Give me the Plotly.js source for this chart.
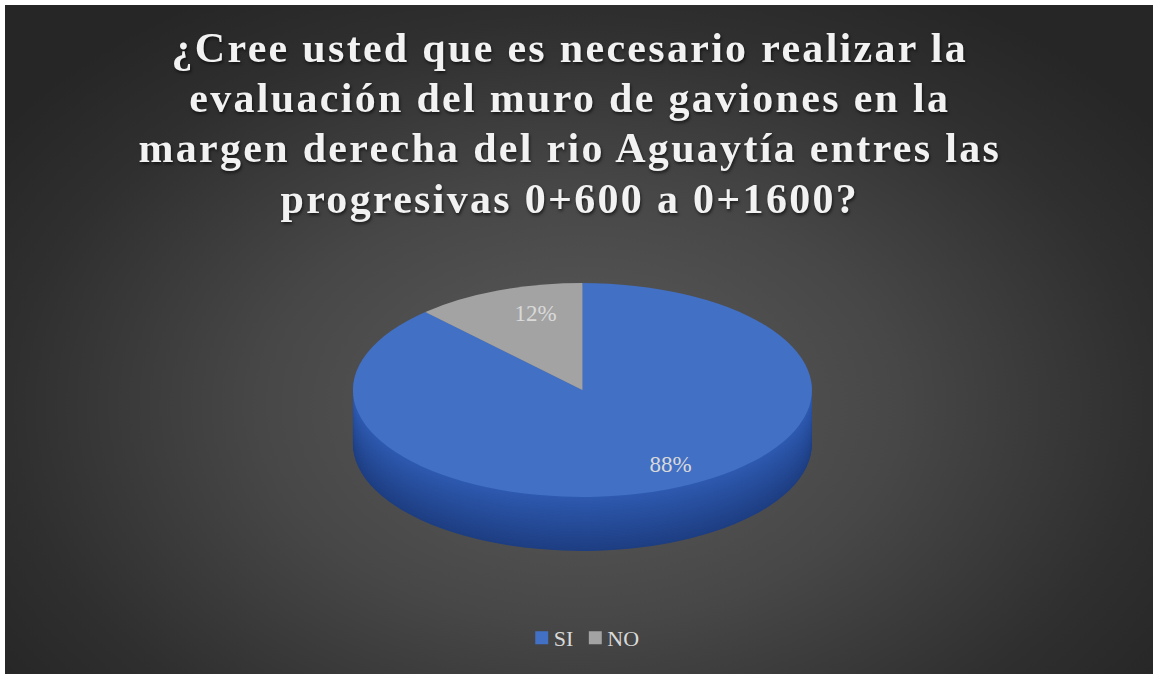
<!DOCTYPE html>
<html><head><meta charset="utf-8">
<script src="https://cdn.plot.ly/plotly-3.0.1.min.js"></script>
<style>
html,body{margin:0;padding:0;background:#ffffff;overflow:hidden;}
#wrap{position:absolute;left:5px;top:5px;width:1148px;height:669px;
 background: radial-gradient(ellipse 62% 72% at 50% 60%, #5c5c5c 0%, #474747 45%, #2f2f2f 80%, #262626 100%);}
#chart{width:1148px;height:669px;}
.gtitle{filter: drop-shadow(1px 2px 1.5px rgba(0,0,0,0.6)); letter-spacing:2.3px;}
</style></head><body>
<div id="wrap"><div id="chart"></div></div>
<script>
// ---- data ----
const categories = ['SI', 'NO'];
const values = [88, 12];
const titleLines = [
  '¿Cree usted que es necesario realizar la',
  'evaluación del muro de gaviones en la',
  'margen derecha del rio Aguaytía entres las',
  'progresivas 0+600 a 0+1600?'
];

// ---- style ----
const topColors = ['#4270c4', '#a3a3a3'];
const sideTop = [46, 90, 176], sideBot = [30, 62, 130];
const greySide = '#777777';
const K = 0.466;          // vertical flattening of the disc
const DEPTH = 54;         // thickness of the disc in px
const STEP = 1.5;
const CENTER_Y = 385;     // disc centre inside the plot div
const W = 1148, H = 669;
const R = 229.5;
const labelShift = [[46, 29], [15, 0]];   // fine placement of the % labels (px)
const legendPull = 11;                      // tighter legend spacing (px)

function rgb(a){return 'rgb(' + a.map(Math.round).join(',') + ')';}

const domainY = [0, (2 * R) / H];
const domainX = [0.006, 1];

const traces = [];
const offsets = [];
const nLayers = Math.round(DEPTH / STEP);
for (let i = nLayers; i >= 1; i--) {
  const t = i / nLayers;
  const c = sideTop.map((v, j) => v + (sideBot[j] - v) * t);
  traces.push({
    type: 'pie', labels: categories, values: values,
    sort: false, direction: 'clockwise', rotation: 0,
    domain: {x: domainX, y: domainY},
    marker: {colors: [rgb(c), greySide], line: {width: 0}},
    textinfo: 'none', hoverinfo: 'skip', showlegend: false
  });
  offsets.push(i * STEP);
}
traces.push({
  type: 'pie', labels: categories, values: values,
  sort: false, direction: 'clockwise', rotation: 0,
  domain: {x: domainX, y: domainY},
  marker: {colors: topColors, line: {width: 0}},
  textinfo: 'percent', textposition: 'inside', insidetextorientation: 'horizontal',
  textfont: {family: 'Liberation Serif', size: 23, color: '#d9d9d9'},
  hoverinfo: 'label+percent', showlegend: true
});
offsets.push(0);

const layout = {
  width: W, height: H,
  margin: {l: 0, r: 0, t: 0, b: 0},
  paper_bgcolor: 'rgba(0,0,0,0)', plot_bgcolor: 'rgba(0,0,0,0)',
  title: {
    text: titleLines.join('<br>'),
    font: {family: 'Liberation Serif', size: 42, color: '#f2f2f2', weight: 700},
    x: 0.492, xanchor: 'center', xref: 'container',
    y: 1 - 57 / H, yanchor: 'top', yref: 'container'
  },
  showlegend: true,
  legend: {
    orientation: 'h', x: 0.505, xanchor: 'center', y: 1 - 633 / H, yanchor: 'middle',
    font: {family: 'Liberation Serif', size: 22, color: '#d9d9d9'},
    bgcolor: 'rgba(0,0,0,0)', traceorder: 'normal', itemwidth: 30
  }
};

function post(gd) {
  const groups = gd.querySelectorAll('.pielayer .trace');
  groups.forEach((g, idx) => {
    let cy = null;
    try { cy = gd.calcdata[idx][0].cy; } catch (e) {}
    if (cy == null || isNaN(cy)) cy = H * (1 - (domainY[0] + domainY[1]) / 2);
    g.setAttribute('transform',
      'translate(0,' + (CENTER_Y + offsets[idx]) + ') scale(1,' + K + ') translate(0,' + (-cy) + ')');
    g.querySelectorAll('.slice').forEach((sl, si) => {
      const tx = sl.querySelector('text.slicetext');
      if (!tx) return;
      const tr = tx.getAttribute('transform') || '';
      const p = tr.indexOf(')');
      const sh = labelShift[si] || [0, 0];
      if (p >= 0) tx.setAttribute('transform',
        'translate(' + sh[0] + ',' + (sh[1] / K) + ') ' + tr.slice(0, p + 1) + ' scale(1,' + (1 / K) + ')' + tr.slice(p + 1));
    });
  });
  const tt = gd.querySelector('.gtitle');
  if (tt) {
    tt.querySelectorAll('tspan.line').forEach((ts, i) => ts.setAttribute('dy', (i * 1.195) + 'em'));
  }
  gd.querySelectorAll('.legend path.legendpie').forEach(p => p.setAttribute('transform', 'translate(28,0) scale(1.08)'));
  gd.querySelectorAll('.legend g.traces').forEach((it, i) => {
    const tr = it.getAttribute('transform') || '';
    const m = tr.match(/translate\(\s*([-\d.e]+)[ ,]+([-\d.e]+)\s*\)/);
    if (m) it.setAttribute('transform', 'translate(' + (parseFloat(m[1]) - i * legendPull) + ',' + m[2] + ')');
  });
}

Plotly.newPlot('chart', traces, layout, {displayModeBar: false, staticPlot: true}).then(post);
</script>
</body></html>
